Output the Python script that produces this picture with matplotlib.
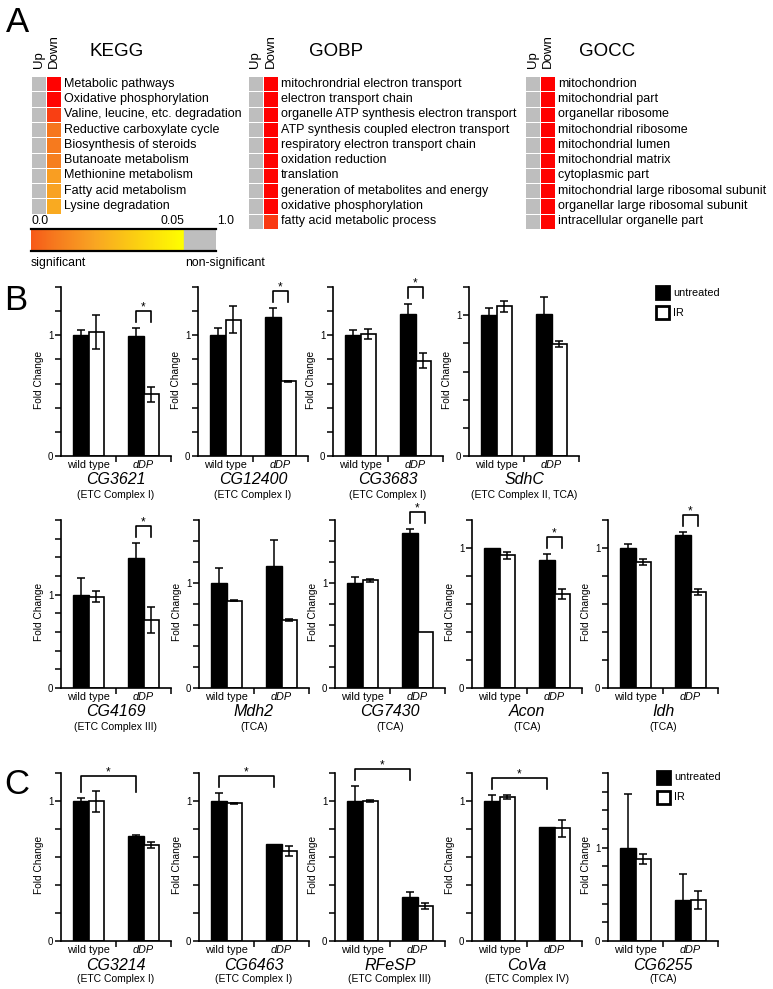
import matplotlib
matplotlib.use('Agg')
import matplotlib.pyplot as plt
import numpy as np
from matplotlib.colors import LinearSegmentedColormap, Normalize
from matplotlib.patches import Rectangle

plt.rcParams['font.family'] = ['Liberation Sans', 'DejaVu Sans']

# ------------------------------------------------------------------ data
# Panel A: enrichment p-values (Up / Down regulated) ; >0.05 = non-significant
kegg_terms = ["Metabolic pathways", "Oxidative phosphorylation",
              "Valine, leucine, etc. degradation", "Reductive carboxylate cycle",
              "Biosynthesis of steroids", "Butanoate metabolism",
              "Methionine metabolism", "Fatty acid metabolism", "Lysine degradation"]
kegg_up_p = [1.0, 1.0, 1.0, 1.0, 1.0, 1.0, 1.0, 1.0, 1.0]
kegg_down_p = [0.0003, 0.0005, 0.007, 0.017, 0.018, 0.019, 0.026, 0.027, 0.029]

gobp_terms = ["mitochrondrial electron transport", "electron transport chain",
              "organelle ATP synthesis electron transport",
              "ATP synthesis coupled electron transport",
              "respiratory electron transport chain", "oxidation reduction",
              "translation", "generation of metabolites and energy",
              "oxidative phosphorylation", "fatty acid metabolic process"]
gobp_up_p = [1.0, 1.0, 1.0, 1.0, 1.0, 1.0, 1.0, 1.0, 1.0, 1.0]
gobp_down_p = [0.0001, 0.0001, 0.0001, 0.0001, 0.0002, 0.0003, 0.0004, 0.0004, 0.0005, 0.006]

gocc_terms = ["mitochondrion", "mitochondrial part", "organellar ribosome",
              "mitochondrial ribosome", "mitochondrial lumen", "mitochondrial matrix",
              "cytoplasmic part", "mitochondrial large ribosomal subunit",
              "organellar large ribosomal subunit", "intracellular organelle part"]
gocc_up_p = [1.0, 1.0, 1.0, 1.0, 1.0, 1.0, 1.0, 1.0, 1.0, 1.0]
gocc_down_p = [0.0001, 0.0001, 0.0001, 0.0001, 0.0002, 0.0002, 0.0002, 0.0003, 0.0003, 0.0004]

cbar_labels = ["0.0", "0.05", "1.0"]
cbar_texts = ["significant", "non-significant"]
sig_cut = 0.05

# Panels B / C: fold change
groups = ["wild type", "dDP"]
series = ["untreated", "IR"]

genes_B1 = ["CG3621", "CG12400", "CG3683", "SdhC"]
notes_B1 = ["(ETC Complex I)", "(ETC Complex I)", "(ETC Complex I)", "(ETC Complex II, TCA)"]
ymax_B1 = [1.4, 1.4, 1.4, 1.2]
untreated_B1 = [[1.00, 0.99], [1.00, 1.15], [1.00, 1.18], [1.00, 1.01]]
untreated_err_B1 = [[0.04, 0.07], [0.06, 0.08], [0.04, 0.08], [0.05, 0.12]]
ir_B1 = [[1.03, 0.51], [1.13, 0.62], [1.01, 0.79], [1.064, 0.795]]
ir_err_B1 = [[0.14, 0.06], [0.11, 0.005], [0.04, 0.06], [0.04, 0.02]]
sig_B1 = ["dDP", "dDP", "dDP", None]

genes_B2 = ["CG4169", "Mdh2", "CG7430", "Acon", "Idh"]
notes_B2 = ["(ETC Complex III)", "(TCA)", "(TCA)", "(TCA)", "(TCA)"]
ymax_B2 = [1.8, 1.6, 1.6, 1.2, 1.2]
untreated_B2 = [[1.00, 1.39], [1.00, 1.16], [1.00, 1.476], [1.00, 0.915], [1.00, 1.093]]
untreated_err_B2 = [[0.18, 0.16], [0.14, 0.25], [0.06, 0.04], [0.0, 0.04], [0.03, 0.02]]
ir_B2 = [[0.98, 0.73], [0.83, 0.65], [1.025, 0.53], [0.95, 0.67], [0.90, 0.687]]
ir_err_B2 = [[0.055, 0.14], [0.005, 0.01], [0.015, 0.0], [0.025, 0.037], [0.024, 0.02]]
sig_B2 = ["dDP", None, "dDP", "dDP", "dDP"]

genes_C = ["CG3214", "CG6463", "RFeSP", "CoVa", "CG6255"]
notes_C = ["(ETC Complex I)", "(ETC Complex I)", "(ETC Complex III)", "(ETC Complex IV)", "(TCA)"]
ymax_C = [1.2, 1.2, 1.2, 1.2, 1.8]
untreated_C = [[1.00, 0.75], [1.00, 0.693], [1.00, 0.314], [1.00, 0.816], [1.00, 0.442]]
untreated_err_C = [[0.02, 0.005], [0.055, 0.0], [0.11, 0.035], [0.043, 0.0], [0.576, 0.275]]
ir_C = [[1.00, 0.686], [0.983, 0.643], [1.00, 0.248], [1.028, 0.804], [0.883, 0.442]]
ir_err_C = [[0.075, 0.02], [0.005, 0.036], [0.005, 0.02], [0.016, 0.06], [0.053, 0.094]]
sig_C = ["untreated", "untreated", "untreated", "untreated", None]

# ------------------------------------------------------------------ figure
W, H = 773, 989
fig = plt.figure(figsize=(W / 100, H / 100), dpi=100)


def px_axes(left, top, width, height):
    return fig.add_axes([left / W, 1 - (top + height) / H, width / W, height / H])


def ftext(x, y, s, **kw):
    return fig.text(x / W, 1 - y / H, s, **kw)


cmap = LinearSegmentedColormap.from_list(
    "sig", [(0.0, "#FF0000"), (0.12, "#F93A12"), (0.35, "#F6781E"),
            (0.55, "#F9A423"), (1.0, "#FFFF00")])
cmap.set_over("#BEBEBE")
norm = Normalize(0, sig_cut)

# panel letters
ftext(18, 22, "A", fontsize=25, ha="center", va="center")
ftext(16, 300, "B", fontsize=25, ha="center", va="center")
ftext(17, 784, "C", fontsize=25, ha="center", va="center")

ROW_TOP = 76
ROW_H = 15.3


def heatmap(left, title_x, terms, up, down, title):
    n = len(terms)
    ax = px_axes(left, ROW_TOP, 30, ROW_H * n)
    data = np.column_stack([up, down])
    ax.pcolormesh(data, cmap=cmap, norm=norm, edgecolors="white", linewidth=0.6)
    ax.set_xlim(0, 2)
    ax.set_ylim(n, 0)
    ax.axis("off")
    for i, t in enumerate(terms):
        ax.text(2.2, i + 0.5, t, va="center", ha="left", fontsize=9.0, clip_on=False)
    ax.text(0.5, -0.5, "Up", rotation=90, ha="center", va="bottom", fontsize=9.5, clip_on=False)
    ax.text(1.5, -0.5, "Down", rotation=90, ha="center", va="bottom", fontsize=9.5, clip_on=False)
    ftext(title_x, 52, title, fontsize=13.5, ha="center", va="center")


heatmap(31, 117, kegg_terms, kegg_up_p, kegg_down_p, "KEGG")
heatmap(248, 336, gobp_terms, gobp_up_p, gobp_down_p, "GOBP")
heatmap(525, 607, gocc_terms, gocc_up_p, gocc_down_p, "GOCC")

# colour scale bar
cax = px_axes(31, 229, 185, 22)
frac = 153 / 185
grad = np.linspace(0.012, sig_cut, 256)[None, :]
cax.imshow(grad, extent=[0, frac, 0, 1], aspect="auto", cmap=cmap, norm=norm)
cax.add_patch(Rectangle((frac, 0), 1 - frac, 1, color=cmap(np.inf)))
cax.set_xlim(0, 1)
cax.set_ylim(0, 1)
cax.set_xticks([])
cax.set_yticks([])
for s in ["left", "right"]:
    cax.spines[s].set_visible(False)
for s in ["top", "bottom"]:
    cax.spines[s].set_linewidth(1.6)
ftext(31, 221, cbar_labels[0], fontsize=8.8, ha="left", va="center")
ftext(184, 221, cbar_labels[1], fontsize=8.8, ha="right", va="center")
ftext(217, 221, cbar_labels[2], fontsize=8.8, ha="left", va="center")
ftext(31, 263, cbar_texts[0], fontsize=8.8, ha="left", va="center")
ftext(185, 263, cbar_texts[1], fontsize=8.8, ha="left", va="center")

# ------------------------------------------------------------------ bar charts
AX_W = 110
BW = 0.28


def bar_panel(left, top, height, ymax, gene, note, unt, ir, unt_err, ir_err, sig):
    ax = px_axes(left, top, AX_W, height)
    x = np.arange(len(groups))
    xu = x - BW / 2
    xi = x + BW / 2
    ax.bar(xu, unt, BW, color="black", edgecolor="black", linewidth=1.0, zorder=2)
    ax.bar(xi, ir, BW, color="white", edgecolor="black", linewidth=1.2, zorder=2)
    for xs, vals, errs in [(xu, unt, unt_err), (xi, ir, ir_err)]:
        for xx, v, e in zip(xs, vals, errs):
            if e > 0:
                ax.errorbar([xx], [v], yerr=[e], fmt="none", ecolor="black",
                            elinewidth=1.1, capsize=2.6, capthick=1.1, zorder=3)
    ax.set_xlim(-0.5, 1.5)
    ax.set_ylim(0, ymax)
    ticks = np.round(np.arange(0, ymax + 1e-6, 0.2), 2)
    ax.set_yticks(ticks)
    ax.set_yticklabels(["0" if t == 0 else ("1" if abs(t - 1) < 1e-6 else "") for t in ticks])
    ax.set_xticks([0.5, 1.5])
    ax.set_xticklabels([])
    ax.set_xticks(x, minor=True)
    ax.set_xticklabels(groups, minor=True)
    for lab in ax.get_xticklabels(minor=True):
        if lab.get_text() == "dDP":
            lab.set_style("italic")
    ax.tick_params(axis="both", which="major", direction="out", length=4, width=1.1,
                   labelsize=7, pad=1.5)
    ax.tick_params(axis="x", which="minor", length=0, labelsize=7.8, pad=3)
    for s in ["top", "right"]:
        ax.spines[s].set_visible(False)
    for s in ["left", "bottom"]:
        ax.spines[s].set_linewidth(1.2)
    ax.set_ylabel("Fold Change", fontsize=7.3)
    ax.yaxis.set_label_coords(-0.155, 0.45)
    cx = left + AX_W / 2
    ftext(cx, top + height + 24, gene, fontsize=11.5, style="italic", ha="center", va="center")
    ftext(cx, top + height + 38.5, note, fontsize=7.5, ha="center", va="center")

    if sig is not None:
        xs_all = [xu[0], xi[0], xu[1], xi[1]]
        tops = [unt[0] + unt_err[0], ir[0] + ir_err[0], unt[1] + unt_err[1], ir[1] + ir_err[1]]
        if sig == "dDP":
            i, j = 2, 3
        else:
            i, j = 0, 2
        ppx = ymax / height
        leg = max(tops[i], tops[j]) + 6 * ppx
        topy = max(leg + 11 * ppx, max(tops[i:j + 1]) + 15 * ppx)
        ax.plot([xs_all[i], xs_all[i], xs_all[j], xs_all[j]], [leg, topy, topy, leg],
                color="black", lw=1.2, clip_on=False, zorder=4)
        ax.text((xs_all[i] + xs_all[j]) / 2, topy + 0.5 * ppx, "*", ha="center",
                va="baseline", fontsize=8.5, clip_on=False)
    return ax


def legend_at(x, y):
    cols = ["black", "white"]
    for k, (lab, fc) in enumerate(zip(series, cols)):
        yy = y + k * 20
        fig.add_artist(Rectangle((x / W, 1 - (yy + 13) / H), 13 / W, 13 / H,
                                 transform=fig.transFigure, facecolor=fc,
                                 edgecolor="black", linewidth=2.0))
        ftext(x + 17, yy + 6.5, lab, fontsize=7.8, ha="left", va="center")


row_B1_left = [61, 198, 333, 469]
for k in range(len(genes_B1)):
    bar_panel(row_B1_left[k], 287, 169, ymax_B1[k], genes_B1[k], notes_B1[k],
              untreated_B1[k], ir_B1[k], untreated_err_B1[k], ir_err_B1[k], sig_B1[k])
legend_at(656, 286)

row_left = [61, 199, 335, 472, 608]
for k in range(len(genes_B2)):
    bar_panel(row_left[k], 520, 168, ymax_B2[k], genes_B2[k], notes_B2[k],
              untreated_B2[k], ir_B2[k], untreated_err_B2[k], ir_err_B2[k], sig_B2[k])

for k in range(len(genes_C)):
    bar_panel(row_left[k], 773, 168, ymax_C[k], genes_C[k], notes_C[k],
              untreated_C[k], ir_C[k], untreated_err_C[k], ir_err_C[k], sig_C[k])
legend_at(657, 771)

fig.savefig("out.png", dpi=100)
